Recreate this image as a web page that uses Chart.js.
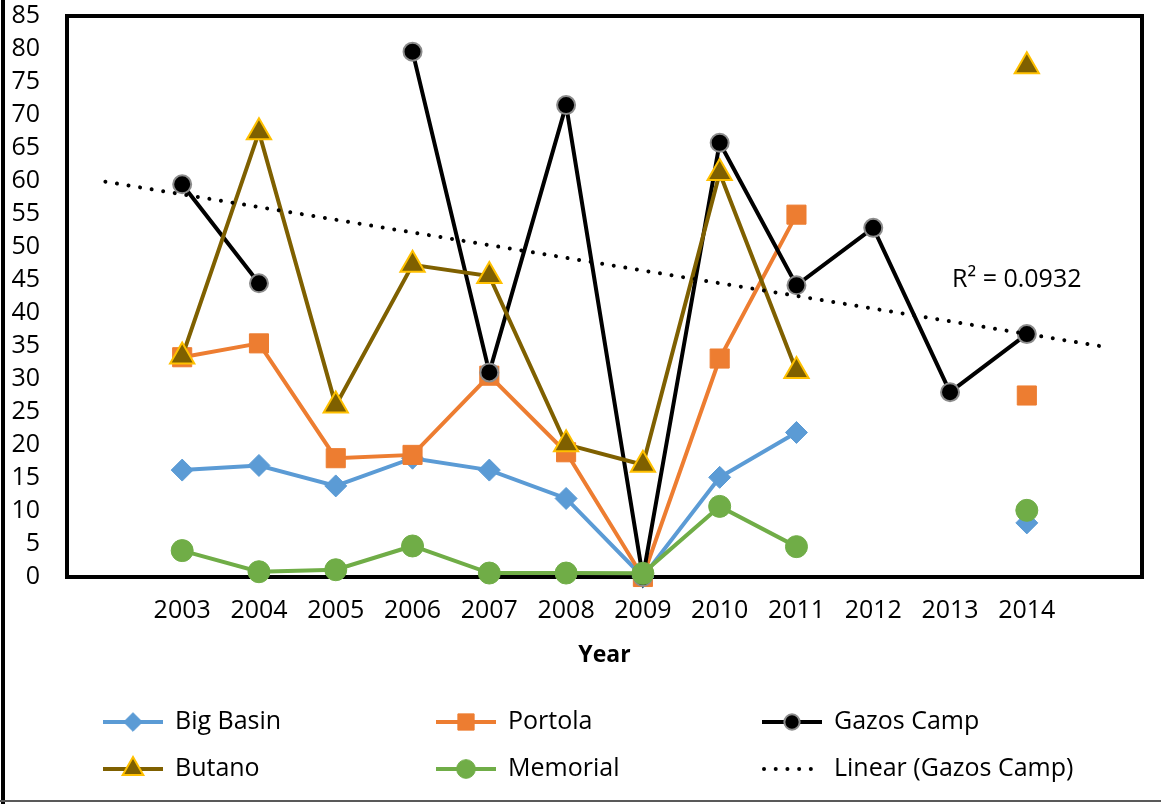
<!DOCTYPE html>
<html>
<head>
<meta charset="utf-8">
<title>Park counts by year</title>
<script src="https://cdn.jsdelivr.net/npm/chart.js@4.4.1/dist/chart.umd.min.js"></script>
<style>
  html, body { margin: 0; padding: 0; background: #fff; }
  #chart { display: block; }
</style>
</head>
<body>
<canvas id="chart" width="1161" height="804"></canvas>
<script>
const years = ["", "2003", "2004", "2005", "2006", "2007", "2008", "2009", "2010", "2011", "2012", "2013", "2014", ""];

const bigBasin = [null, 16.2, 16.9, 13.8, 18.0, 16.2, 11.9, 0, 15.1, 21.9, null, null, 8.2, null];
const portola = [null, 33.3, 35.4, 18.0, 18.5, 30.5, 18.9, 0, 33.1, 54.9, null, null, 27.5, null];
const gazosCamp = [null, 59.5, 44.5, null, 79.6, 31.0, 71.5, 0, 65.8, 44.2, 52.9, 28.0, 36.8, null];
const butano = [null, 33.4, 67.4, 26.0, 47.3, 45.6, 20.1, 17.0, 61.2, 31.2, null, null, 77.4, null];
const memorial = [null, 4.0, 0.8, 1.1, 4.7, 0.6, 0.6, 0.55, 10.7, 4.6, null, null, 10.1, null];
const gazosTrend = [59.9, null, null, null, null, null, null, null, null, null, null, null, null, 34.9];

const yTicks = { min: 0, max: 85, step: 5 };
const trendLabel = "R² = 0.0932";

const FONT = "'Open Sans', sans-serif";
const FONT_SIZE = 25;

const series = [
  { label: "Big Basin", data: bigBasin, color: "#5b9bd5", fill: "#5b9bd5", edge: "#5b9bd5", style: "rectRot", radius: 11, edgeWidth: 1 },
  { label: "Portola", data: portola, color: "#ed7d31", fill: "#ed7d31", edge: "#ed7d31", style: "rect", radius: 13.5, edgeWidth: 1 },
  { label: "Gazos Camp", data: gazosCamp, color: "#000000", fill: "#000000", edge: "#8c8c8c", style: "circle", radius: 9, edgeWidth: 2 },
  { label: "Butano", data: butano, color: "#7f6000", fill: "#7f6000", edge: "#ffc000", style: "triangle", radius: 14, edgeWidth: 2 },
  { label: "Memorial", data: memorial, color: "#70ad47", fill: "#70ad47", edge: "#70ad47", style: "circle", radius: 11, edgeWidth: 1 },
];

const datasets = series.map((s, i) => ({
  label: s.label,
  data: s.data,
  borderColor: s.color,
  backgroundColor: s.fill,
  borderWidth: 4,
  tension: 0,
  pointStyle: s.style,
  pointRadius: s.radius,
  pointHoverRadius: s.radius,
  pointBackgroundColor: s.fill,
  pointBorderColor: s.edge,
  pointBorderWidth: s.edgeWidth,
  clip: false,
  order: series.length - i,
}));

datasets.push({
  label: "Linear (Gazos Camp)",
  data: gazosTrend,
  borderColor: "#000000",
  borderWidth: 4,
  borderDash: [0.01, 11.7],
  borderCapStyle: "round",
  pointRadius: 0,
  spanGaps: true,
  clip: false,
  order: 0,
  isTrend: true,
});

// frame round the plot, outer border, trend label and the 3x2 legend
const decorations = {
  id: "decorations",
  beforeDraw(chart) {
    const ctx = chart.ctx;
    ctx.save();
    ctx.fillStyle = "#000";
    ctx.fillRect(1, 0, 4, 804);
    ctx.fillStyle = "#595959";
    ctx.fillRect(0, 800, 1161, 2);
    ctx.restore();
  },
  beforeDatasetsDraw(chart) {
    const { ctx, chartArea: a } = chart;
    ctx.save();
    ctx.strokeStyle = "#000";
    ctx.lineWidth = 4;
    ctx.strokeRect(a.left, a.top, a.right - a.left, a.bottom - a.top);
    ctx.restore();
  },
  afterDraw(chart) {
    const ctx = chart.ctx;
    const xs = chart.scales.x;
    const ys = chart.scales.y;
    ctx.save();
    ctx.font = `${FONT_SIZE}px ${FONT}`;
    ctx.fillStyle = "#000";
    ctx.textAlign = "left";
    ctx.textBaseline = "middle";
    ctx.fillText(trendLabel, xs.getPixelForValue(11) + 2, ys.getPixelForValue(45));

    const cols = [103, 436, 762];
    const rows = [722, 769];
    const lineLen = 60;
    chart.data.datasets.forEach((ds, i) => {
      const x0 = cols[i % 3];
      const y0 = rows[Math.floor(i / 3)];
      ctx.save();
      ctx.strokeStyle = ds.borderColor;
      ctx.lineWidth = 4;
      if (ds.isTrend) {
        ctx.setLineDash([0.01, 11.7]);
        ctx.lineCap = "round";
        ctx.beginPath();
        ctx.moveTo(x0 + 2, y0);
        ctx.lineTo(x0 + lineLen, y0);
        ctx.stroke();
      } else {
        ctx.beginPath();
        ctx.moveTo(x0, y0);
        ctx.lineTo(x0 + lineLen, y0);
        ctx.stroke();
        ctx.fillStyle = ds.pointBackgroundColor;
        ctx.strokeStyle = ds.pointBorderColor;
        ctx.lineWidth = ds.pointBorderWidth;
        Chart.helpers.drawPoint(ctx, {
          pointStyle: ds.pointStyle,
          radius: ds.pointRadius * 0.85,
          rotation: 0,
          borderWidth: ds.pointBorderWidth,
        }, x0 + lineLen / 2, y0);
      }
      ctx.restore();
      ctx.fillStyle = "#000";
      ctx.font = `${FONT_SIZE}px ${FONT}`;
      ctx.textBaseline = "middle";
      ctx.fillText(ds.label, x0 + lineLen + 12, y0);
    });
    ctx.restore();
  },
};

new Chart(document.getElementById("chart"), {
  type: "line",
  data: { labels: years, datasets },
  options: {
    responsive: false,
    animation: false,
    devicePixelRatio: 1,
    layout: { padding: { left: 0, top: 15, right: 19, bottom: 127 } },
    plugins: {
      legend: { display: false },
      tooltip: { enabled: false },
    },
    scales: {
      x: {
        type: "category",
        offset: true,
        grid: { display: false, drawTicks: false },
        border: { display: false },
        ticks: {
          color: "#000",
          font: { family: FONT, size: FONT_SIZE },
          padding: 19,
          autoSkip: false,
          maxRotation: 0,
        },
        title: {
          display: true,
          text: "Year",
          color: "#000",
          font: { family: FONT, size: 23, weight: "bold" },
          padding: { top: 0, bottom: 8 },
        },
        afterFit: (scale) => {
          scale.height = 100;
          scale.paddingLeft = 0;
          scale.paddingRight = 0;
        },
      },
      y: {
        min: yTicks.min,
        max: yTicks.max,
        grid: { display: false, drawTicks: false },
        border: { display: false },
        ticks: {
          stepSize: yTicks.step,
          color: "#000",
          font: { family: FONT, size: FONT_SIZE },
          padding: 27,
        },
        afterFit: (scale) => {
          scale.width = 67;
          scale.paddingTop = 0;
          scale.paddingBottom = 0;
        },
      },
    },
  },
  plugins: [decorations],
});
</script>
</body>
</html>
